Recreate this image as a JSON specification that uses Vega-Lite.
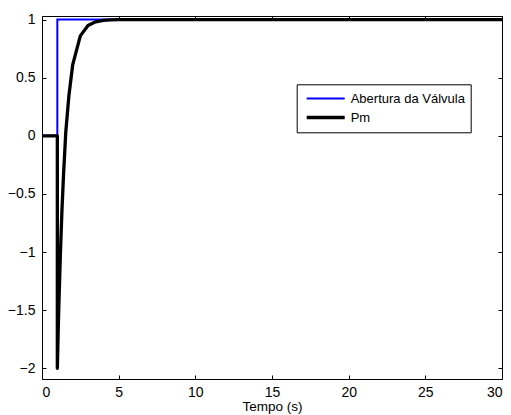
{
  "$schema": "https://vega.github.io/schema/vega-lite/v6.json",
  "autosize": "none",
  "padding": {"left": 42, "top": 16, "right": 9, "bottom": 36},
  "width": 460,
  "height": 363,
  "background": "white",
  "config": {
    "font": "Liberation Sans",
    "view": {"stroke": "black", "strokeWidth": 1},
    "axis": {
      "grid": false,
      "domain": false,
      "tickColor": "black",
      "tickSize": -4,
      "labelColor": "black",
      "labelFont": "Liberation Sans",
      "labelFontSize": 14,
      "titleFont": "Liberation Sans",
      "titleFontSize": 14,
      "titleFontWeight": "normal",
      "titleColor": "black"
    },
    "legend": {
      "orient": "none",
      "legendX": 254.7,
      "legendY": 68.3,
      "strokeColor": "black",
      "fillColor": "white",
      "padding": 5,
      "symbolType": "stroke",
      "symbolSize": 1444,
      "symbolOffset": 3,
      "labelOffset": 4,
      "clipHeight": 18.4,
      "rowPadding": 0,
      "labelFont": "Liberation Sans",
      "labelFontSize": 13,
      "labelColor": "black",
      "cornerRadius": 0
    }
  },
  "data": {
    "values": [
      {"serie": "Abertura da Válvula", "i": 0, "t": 0, "v": 0},
      {"serie": "Abertura da Válvula", "i": 1, "t": 1, "v": 0},
      {"serie": "Abertura da Válvula", "i": 2, "t": 1, "v": 1},
      {"serie": "Abertura da Válvula", "i": 3, "t": 30, "v": 1},
      {"serie": "Pm", "i": 0, "t": 0, "v": 0},
      {"serie": "Pm", "i": 1, "t": 1, "v": 0},
      {"serie": "Pm", "i": 2, "t": 1, "v": -2},
      {"serie": "Pm", "i": 3, "t": 1.05, "v": -1.714},
      {"serie": "Pm", "i": 4, "t": 1.1, "v": -1.456},
      {"serie": "Pm", "i": 5, "t": 1.2, "v": -1.011},
      {"serie": "Pm", "i": 6, "t": 1.3, "v": -0.646},
      {"serie": "Pm", "i": 7, "t": 1.4, "v": -0.348},
      {"serie": "Pm", "i": 8, "t": 1.55, "v": 0.03},
      {"serie": "Pm", "i": 9, "t": 1.75, "v": 0.34},
      {"serie": "Pm", "i": 10, "t": 2.0, "v": 0.61},
      {"serie": "Pm", "i": 11, "t": 2.5, "v": 0.86},
      {"serie": "Pm", "i": 12, "t": 3.0, "v": 0.95},
      {"serie": "Pm", "i": 13, "t": 3.5, "v": 0.981},
      {"serie": "Pm", "i": 14, "t": 4.0, "v": 0.993},
      {"serie": "Pm", "i": 15, "t": 4.5, "v": 0.997},
      {"serie": "Pm", "i": 16, "t": 5.0, "v": 0.999},
      {"serie": "Pm", "i": 17, "t": 6.0, "v": 1.0},
      {"serie": "Pm", "i": 18, "t": 30, "v": 1.0}
    ]
  },
  "encoding": {
    "x": {"field": "t", "type": "quantitative", "scale": {"domain": [0, 30], "nice": false, "zero": false}},
    "y": {"field": "v", "type": "quantitative", "scale": {"domain": [-2.092, 1.031], "nice": false, "zero": false}},
    "order": {"field": "i", "type": "quantitative"},
    "color": {
      "field": "serie", "type": "nominal",
      "scale": {"domain": ["Abertura da Válvula", "Pm"], "range": ["#0000ff", "#000000"]},
      "legend": {"title": null}
    },
    "strokeWidth": {
      "field": "serie", "type": "nominal",
      "scale": {"domain": ["Abertura da Válvula", "Pm"], "range": [2, 3.3]},
      "legend": {"title": null}
    }
  },
  "layer": [
    {
      "transform": [{"filter": "datum.serie === 'Abertura da Válvula'"}],
      "mark": {"type": "line", "strokeCap": "butt", "strokeJoin": "miter"},
      "encoding": {
        "x": {"field": "t", "type": "quantitative", "axis": {"orient": "bottom", "title": "Tempo (s)", "values": [0, 5, 10, 15, 20, 25, 30], "format": "~g", "labelPadding": 10, "titlePadding": 0, "titleFontSize": 13.5}},
        "y": {"field": "v", "type": "quantitative", "axis": {"orient": "left", "title": null, "values": [-2, -1.5, -1, -0.5, 0, 0.5, 1], "format": "~g", "labelPadding": 11}}
      }
    },
    {
      "transform": [{"filter": "datum.serie === 'Pm'"}],
      "mark": {"type": "line", "strokeCap": "butt", "strokeJoin": "round"},
      "encoding": {
        "x": {"field": "t", "type": "quantitative", "axis": {"orient": "top", "title": null, "labels": false, "values": [0, 5, 10, 15, 20, 25, 30]}},
        "y": {"field": "v", "type": "quantitative", "axis": {"orient": "right", "title": null, "labels": false, "values": [-2, -1.5, -1, -0.5, 0, 0.5, 1]}}
      }
    }
  ],
  "resolve": {"axis": {"x": "independent", "y": "independent"}}
}
